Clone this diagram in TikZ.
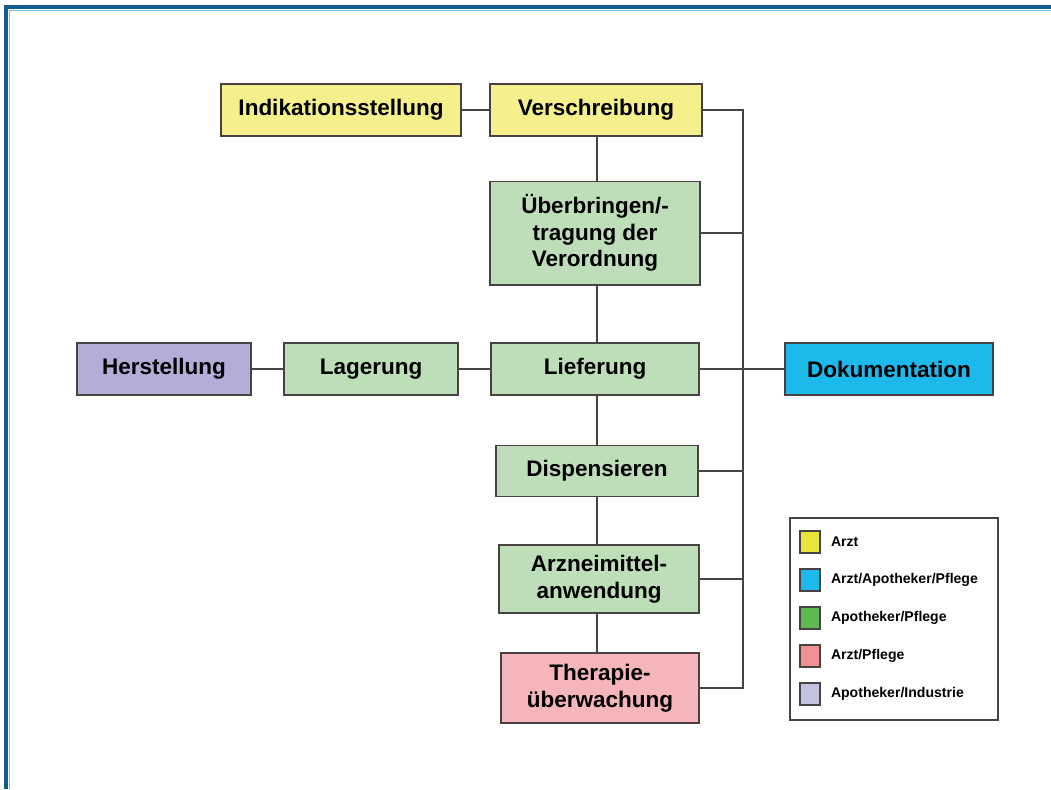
\documentclass[tikz,border=0pt]{standalone}
\usepackage{fontspec}
\setmainfont{Liberation Sans}
\usetikzlibrary{positioning}

\definecolor{framedark}{RGB}{16,92,140}
\definecolor{framelight}{RGB}{120,190,225}
\definecolor{lineg}{RGB}{72,66,66}
\definecolor{arztcol}{RGB}{246,240,140}
\definecolor{gruencol}{RGB}{190,222,186}
\definecolor{blaucol}{RGB}{30,185,235}
\definecolor{lilacol}{RGB}{178,174,216}
\definecolor{rosacol}{RGB}{244,182,186}
\definecolor{legarzt}{RGB}{232,228,60}
\definecolor{leggruen}{RGB}{95,185,80}
\definecolor{legrosa}{RGB}{240,145,150}
\definecolor{leglila}{RGB}{195,195,225}

\begin{document}
\begin{tikzpicture}[x=0.025cm, y=-0.025cm,
	every box/.style={draw=lineg, line width=1.4pt, inner sep=0pt, align=center,
		font=\fontsize{16}{19}\selectfont\bfseries},
	link/.style={draw=lineg, line width=1.3pt},
	swatch/.style={draw=lineg, line width=1pt, minimum width=0.5cm, minimum height=0.55cm, inner sep=0pt}]
		\useasboundingbox (0,0) rectangle (1051,789);
		
		% Rahmen
		\draw [framedark, line width=2.6pt] (6,789) -- (6,7) -- (1051,7);
		\draw [framelight, line width=0.8pt] (9.5,789) -- (9.5,10.5) -- (1051,10.5);
		
		% Kaestchen
		\node [every box, fill=arztcol, minimum width=6cm, minimum height=1.3cm] (indikation) at (341,110) {Indikationsstellung};
		\node [every box, fill=arztcol, minimum width=5.3cm, minimum height=1.3cm] (verschreibung) at (596,110) {Verschreibung};
		\node [every box, fill=gruencol, minimum width=5.25cm, minimum height=2.575cm] (ueberbringen) at (595,233) {Überbringen/-\\tragung der\\Verordnung};
		\node [every box, fill=lilacol, minimum width=4.325cm, minimum height=1.3cm] (herstellung) at (164,369) {Herstellung};
		\node [every box, fill=gruencol, minimum width=4.35cm, minimum height=1.3cm] (lagerung) at (371,369) {Lagerung};
		\node [every box, fill=gruencol, minimum width=5.175cm, minimum height=1.3cm] (lieferung) at (595,369) {Lieferung};
		\node [every box, fill=blaucol, minimum width=5.2cm, minimum height=1.3cm] (dokumentation) at (889,369) {Dokumentation};
		\node [every box, fill=gruencol, minimum width=5.05cm, minimum height=1.275cm] (dispensieren) at (597,471) {Dispensieren};
		\node [every box, fill=gruencol, minimum width=5cm, minimum height=1.7cm] (anwendung) at (599,579) {Arzneimittel-\\anwendung};
		\node [every box, fill=rosacol, minimum width=4.95cm, minimum height=1.75cm] (therapie) at (600,688) {Therapie-\\überwachung};
		
		\coordinate (bus) at (743,0);
		
		% Verbindungen
		\draw [link] (indikation) -- (verschreibung);
		\draw [link] (herstellung) -- (lagerung);
		\draw [link] (lagerung) -- (lieferung);
		\draw [link] (lieferung) -- (dokumentation);
		
		\foreach \a/\b in {verschreibung/ueberbringen, ueberbringen/lieferung, lieferung/dispensieren, dispensieren/anwendung, anwendung/therapie}
		\draw [link] (\a.south -| 597,0) -- (\b.north -| 597,0);
		
		\draw [link] (verschreibung.east) -| (bus |- therapie.east) -- (therapie.east);
		\foreach \a in {ueberbringen, dispensieren, anwendung}
		\draw [link] (\a.east) -- (\a.east -| bus);
		
		% Legende
		\node [draw=lineg, line width=1.2pt, minimum width=5.2cm, minimum height=5.05cm, inner sep=0pt] (legende) at (894,619) {};
		\foreach \c/\t [count=\y] in {legarzt/Arzt, blaucol/Arzt\slash Apotheker\slash Pflege, leggruen/Apotheker\slash Pflege, legrosa/Arzt\slash Pflege, leglila/Apotheker\slash Industrie}
		{
		\node [swatch, fill=\c] (swatch-\y) at (810,504+38*\y) {};
		\node [right=0.25cm of swatch-\y, inner sep=0pt, font=\fontsize{10}{12}\selectfont\bfseries] (label-\y) {\t};
		}
		
		\end{tikzpicture}
\end{document}
